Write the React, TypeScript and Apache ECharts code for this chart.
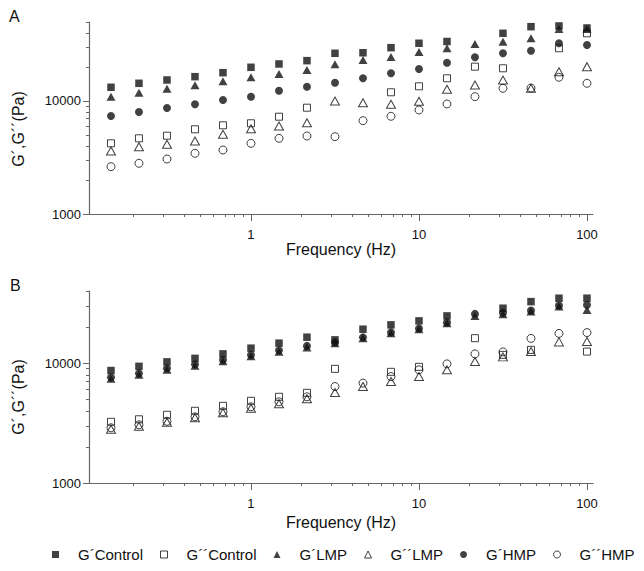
import React, { useEffect, useRef } from 'react';
import * as echarts from 'echarts';

// Frequencies (Hz), 6 points per decade
const frequency = [0.1468, 0.2154, 0.3162, 0.4642, 0.6813, 1, 1.468, 2.154, 3.162, 4.642, 6.813, 10, 14.68, 21.54, 31.62, 46.42, 68.13, 100];

// Panel A (Pa)
const aGpControl = [13220, 14340, 15340, 16410, 17800, 19870, 21260, 22740, 26430, 26710, 29630, 32410, 33610, null, 39720, 45450, 46100, 44260];
const aGppControl = [4222, 4675, 4930, 5618, 6095, 6350, 7262, 8724, null, null, 11940, 13490, 15880, 20120, 19470, null, 29270, 39720];
const aGpLMP = [10920, 11840, 12850, 13770, 14940, 16210, 17330, 18810, 21130, 23060, 24510, 27140, 29270, 31950, 33480, 35880, 43360, 43360];
const aGppLMP = [3609, 3940, 4138, 4426, 5074, 5687, 6008, 6427, 10000, 9660, 9350, 9950, 12690, 13850, 15340, 12950, 18160, 20120];
const aGpHMP = [7367, 7990, 8670, 9350, 10200, 10920, 12340, 13380, 14520, 15880, 17590, 19200, 21830, 24360, 26430, 27870, 32410, 31300];
const aGppHMP = [2622, 2810, 3067, 3444, 3684, 4222, 4675, 4901, 4832, 6693, 7321, 8324, 9408, 10920, 12950, 13030, 16210, 14340];

// Panel B (Pa)
const bGpControl = [8675, 9404, 10250, 10965, 11953, 13335, 14680, 16470, 15640, 19200, 20860, 22520, 24790, null, 28730, 32610, 34820, 34820];
const bGppControl = [3242, 3402, 3709, 4004, 4406, 4851, 5238, 5656, 8965, null, 8463, 9316, null, 16160, 11730, 12910, null, 12490];
const bGpLMP = [7400, 7990, 8795, 9495, 10350, 11393, 12420, 13540, 14680, 16160, 17780, 19200, 21540, 24790, 25600, 26920, 29630, 27810];
const bGppLMP = [2807, 2974, 3211, 3500, 3854, 4200, 4580, 5042, 5689, 6383, 7027, 7731, 8795, 10310, 11280, 12490, 15040, 15140];
const bGpHMP = [7614, 8222, 9050, 9772, 10655, 11726, 12785, 13935, 14900, 16410, 18060, 19500, 21880, 25760, 26260, 27540, 30320, 30610];
const bGppHMP = [2889, 3060, 3273, 3568, 3928, 4323, 4759, 5238, 6383, 6813, 7731, 8795, 9866, 11950, 12420, 16090, 17710, 17990];

const seriesNames = ['G´Control', 'G´´Control', 'G´LMP', 'G´´LMP', 'G´HMP', 'G´´HMP'];

// Axis ticks
const xMajor = [1, 10, 100];
const xMinor = [0.2, 0.3, 0.4, 0.5, 0.6, 0.7, 0.8, 0.9, 2, 3, 4, 5, 6, 7, 8, 9, 20, 30, 40, 50, 60, 70, 80, 90];
const yMajor = [1000, 10000];
const yMinorA = [2000, 3000, 4000, 5000, 6000, 7000, 8000, 9000, 20000, 30000, 40000, 50000];
const yMinorB = [2000, 3000, 4000, 5000, 6000, 7000, 8000, 9000, 20000, 30000, 40000];

const FONT = "'Liberation Sans', Arial, Helvetica, sans-serif";
const INK = '#111';
const AXIS = '#666';

const symbolDefs: Record<string, any> = {
  'G´Control': { symbol: 'rect', symbolSize: 7.5, filled: true },
  'G´´Control': { symbol: 'rect', symbolSize: 7, filled: false },
  'G´LMP': { symbol: 'triangle', symbolSize: [9, 8], filled: true },
  'G´´LMP': { symbol: 'triangle', symbolSize: [9, 8], filled: false },
  'G´HMP': { symbol: 'circle', symbolSize: 8, filled: true },
  'G´´HMP': { symbol: 'circle', symbolSize: 8, filled: false },
};

function styleFor(filled: boolean) {
  return filled
    ? { color: INK, borderColor: INK, borderWidth: 0 }
    : { color: 'rgba(0,0,0,0)', borderColor: INK, borderWidth: 1 };
}

function pairs(values: (number | null)[]) {
  const out: number[][] = [];
  values.forEach((v, i) => {
    if (v !== null) out.push([frequency[i], v]);
  });
  return out;
}

function makeSeries(name: string, values: (number | null)[], axisIndex: number) {
  const d = symbolDefs[name];
  return {
    name,
    type: 'scatter',
    xAxisIndex: axisIndex,
    yAxisIndex: axisIndex,
    symbol: d.symbol,
    symbolSize: d.symbolSize,
    itemStyle: styleFor(d.filled),
    emphasis: { disabled: true },
    data: pairs(values),
  };
}

function xAxes(gridIndex: number, nameGap: number) {
  return [
    {
      gridIndex,
      type: 'log',
      logBase: 10,
      min: 0.1086,
      max: 108.6,
      position: 'bottom',
      axisLine: { show: true, lineStyle: { color: AXIS, width: 1.2 } },
      axisTick: { show: true, customValues: xMajor, length: 7, lineStyle: { color: AXIS } },
      axisLabel: {
        customValues: xMajor,
        fontSize: 13,
        color: INK,
        fontFamily: FONT,
        margin: 14,
        formatter: (v: number) => String(Math.round(v)),
      },
      splitLine: { show: false },
      name: 'Frequency (Hz)',
      nameLocation: 'middle',
      nameGap,
      nameTextStyle: { fontSize: 16, color: INK, fontFamily: FONT },
    },
    {
      gridIndex,
      type: 'log',
      logBase: 10,
      min: 0.1086,
      max: 108.6,
      position: 'bottom',
      axisLine: { show: false },
      axisTick: { show: true, customValues: xMinor, length: 3, lineStyle: { color: AXIS } },
      axisLabel: { show: false },
      splitLine: { show: false },
    },
  ];
}

function yAxes(gridIndex: number, max: number, minor: number[]) {
  return [
    {
      gridIndex,
      type: 'log',
      logBase: 10,
      min: 1000,
      max,
      position: 'left',
      axisLine: { show: true, lineStyle: { color: AXIS, width: 1.2 } },
      axisTick: { show: true, customValues: yMajor, length: 6, lineStyle: { color: AXIS } },
      axisLabel: {
        customValues: yMajor,
        fontSize: 13,
        color: INK,
        fontFamily: FONT,
        margin: 8,
        formatter: (v: number) => String(Math.round(v)),
      },
      splitLine: { show: false },
    },
    {
      gridIndex,
      type: 'log',
      logBase: 10,
      min: 1000,
      max,
      position: 'left',
      axisLine: { show: false },
      axisTick: { show: true, customValues: minor, length: 3, lineStyle: { color: AXIS } },
      axisLabel: { show: false },
      splitLine: { show: false },
    },
  ];
}

export default function App() {
  const ref = useRef<HTMLDivElement>(null);

  useEffect(() => {
    if (!ref.current) return;
    const chart = echarts.init(ref.current, undefined, { renderer: 'svg' });

    const yTitle = 'G´,G´´(Pa)';
    const option: any = {
      animation: false,
      backgroundColor: '#fff',
      textStyle: { fontFamily: FONT, color: INK },
      grid: [
        { left: 89, top: 22, width: 504, height: 192 },
        { left: 89, top: 291, width: 504, height: 192 },
      ],
      xAxis: [...xAxes(0, 25), ...xAxes(1, 31)],
      yAxis: [...yAxes(0, 50000, yMinorA), ...yAxes(1, 40000, yMinorB)],
      legend: {
        left: 47,
        top: 542,
        itemWidth: 7,
        itemHeight: 7,
        itemGap: 17,
        selectedMode: false,
        textStyle: { fontSize: 15, color: INK, fontFamily: FONT, padding: [0, 0, 0, 14] },
        data: seriesNames.map((n) => {
          const d = symbolDefs[n];
          return { name: n, icon: d.symbol, itemStyle: styleFor(d.filled) };
        }),
      },
      graphic: [
        { type: 'text', left: 9, top: 8, style: { text: 'A', fontSize: 16, fill: INK, fontFamily: FONT } },
        { type: 'text', left: 10, top: 277, style: { text: 'B', fontSize: 16, fill: INK, fontFamily: FONT } },
        {
          type: 'text', x: 18, y: 129, rotation: Math.PI / 2,
          style: { text: yTitle, fontSize: 16, fill: INK, fontFamily: FONT, align: 'center', verticalAlign: 'middle' },
        },
        {
          type: 'text', x: 18, y: 397, rotation: Math.PI / 2,
          style: { text: yTitle, fontSize: 16, fill: INK, fontFamily: FONT, align: 'center', verticalAlign: 'middle' },
        },
      ],
      series: [
        makeSeries('G´Control', aGpControl, 0),
        makeSeries('G´´Control', aGppControl, 0),
        makeSeries('G´LMP', aGpLMP, 0),
        makeSeries('G´´LMP', aGppLMP, 0),
        makeSeries('G´HMP', aGpHMP, 0),
        makeSeries('G´´HMP', aGppHMP, 0),
        makeSeries('G´Control', bGpControl, 2),
        makeSeries('G´´Control', bGppControl, 2),
        makeSeries('G´LMP', bGpLMP, 2),
        makeSeries('G´´LMP', bGppLMP, 2),
        makeSeries('G´HMP', bGpHMP, 2),
        makeSeries('G´´HMP', bGppHMP, 2),
      ],
    };

    chart.setOption(option);
    return () => chart.dispose();
  }, []);

  return (
    <div
      ref={ref}
      style={{ position: 'absolute', left: 0, top: 0, width: 644, height: 571, background: '#fff' }}
    />
  );
}
